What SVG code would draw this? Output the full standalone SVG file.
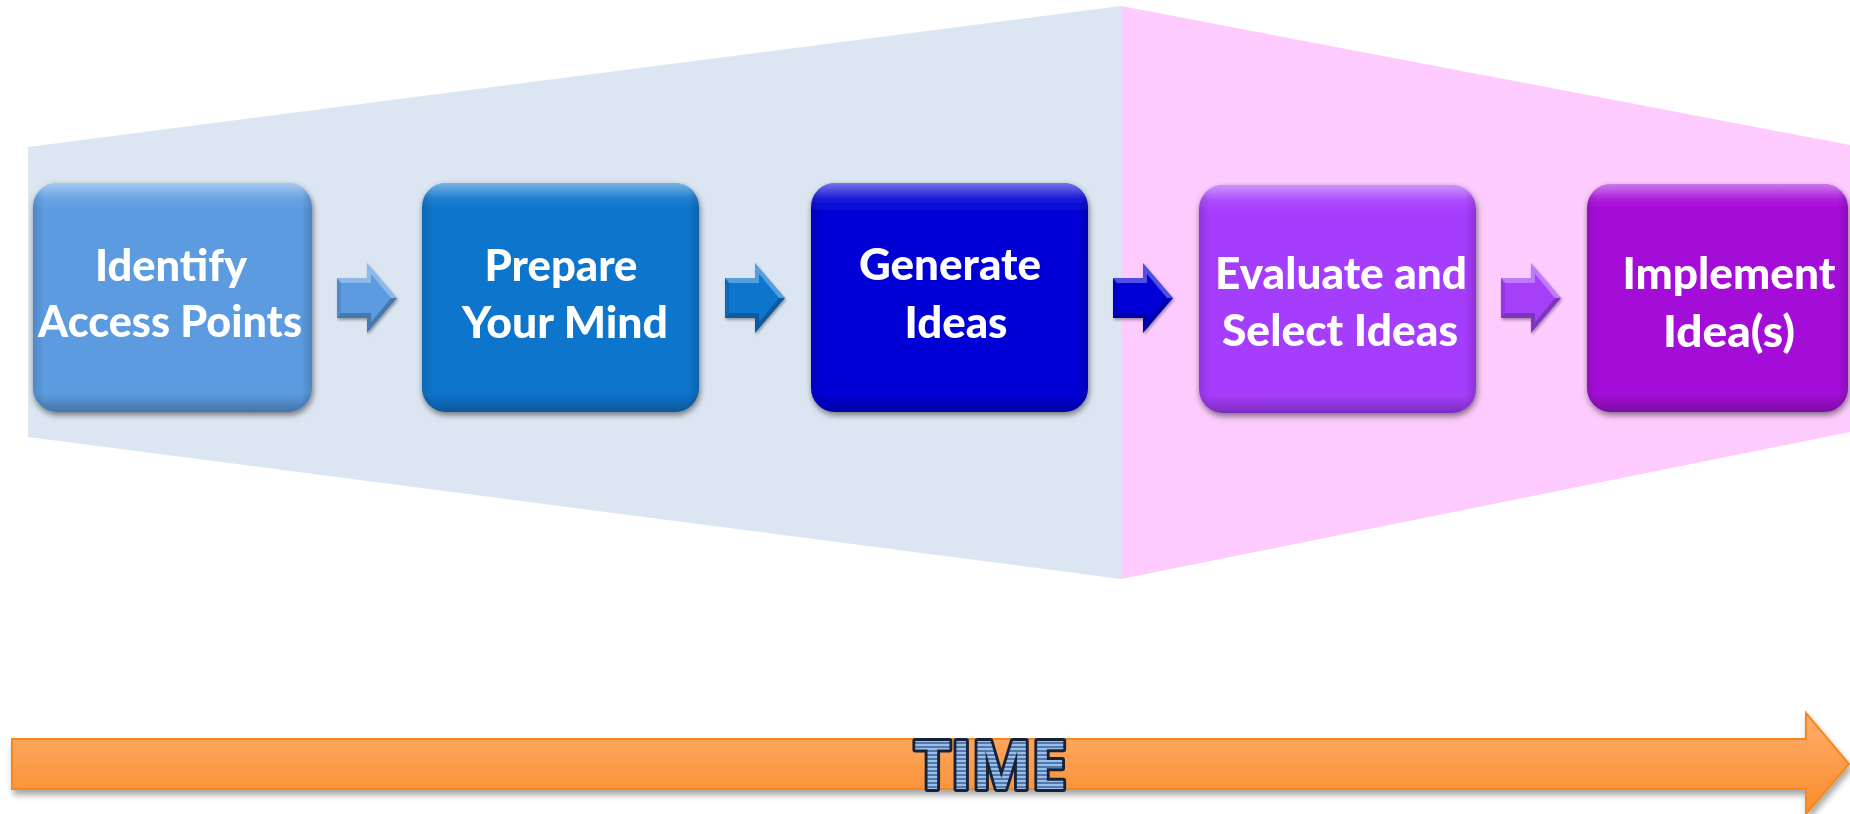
<svg xmlns="http://www.w3.org/2000/svg" width="1850" height="814" viewBox="0 0 1850 814">
  <defs>
    <style>
      .step-label { font-family: Lato, "Open Sans", "Liberation Sans", sans-serif; font-weight: 900; font-size: 43px; fill: #ffffff; text-anchor: middle; }
      .time-label { font-family: "Open Sans", "Liberation Sans", Arial, sans-serif; font-weight: 700; font-size: 66px; fill: url(#stripes); stroke: #15223a; stroke-width: 6; paint-order: stroke; stroke-linejoin: round; }
      .facet-light { fill: #ffffff; fill-opacity: 0.3; }
      .facet-dark { fill: #000000; fill-opacity: 0.22; }
      .facet-side { fill: #000000; fill-opacity: 0.1; }
    </style>
    <filter id="boxShadow" x="-10%" y="-10%" width="125%" height="130%">
      <feGaussianBlur in="SourceAlpha" stdDeviation="3"/>
      <feOffset dx="1" dy="3" result="blur"/>
      <feComponentTransfer><feFuncA type="linear" slope="0.5"/></feComponentTransfer>
      <feMerge><feMergeNode/><feMergeNode in="SourceGraphic"/></feMerge>
    </filter>
    <filter id="arrowShadow" x="-20%" y="-20%" width="150%" height="150%">
      <feGaussianBlur in="SourceAlpha" stdDeviation="1.5"/>
      <feOffset dx="1" dy="2"/>
      <feComponentTransfer><feFuncA type="linear" slope="0.35"/></feComponentTransfer>
      <feMerge><feMergeNode/><feMergeNode in="SourceGraphic"/></feMerge>
    </filter>
    <filter id="barShadow" x="-5%" y="-20%" width="110%" height="160%">
      <feGaussianBlur in="SourceAlpha" stdDeviation="3"/>
      <feOffset dx="2" dy="5"/>
      <feComponentTransfer><feFuncA type="linear" slope="0.35"/></feComponentTransfer>
      <feMerge><feMergeNode/><feMergeNode in="SourceGraphic"/></feMerge>
    </filter>
    <!-- bevel sheen laid over each step box -->
    <linearGradient id="bevelTop" x1="0" y1="0" x2="0" y2="1">
      <stop offset="0" stop-color="#ffffff" stop-opacity="0.45"/>
      <stop offset="0.07" stop-color="#ffffff" stop-opacity="0.08"/>
      <stop offset="0.12" stop-color="#ffffff" stop-opacity="0"/>
      <stop offset="0.92" stop-color="#000000" stop-opacity="0"/>
      <stop offset="1" stop-color="#000000" stop-opacity="0.25"/>
    </linearGradient>
    <linearGradient id="bevelSide" x1="0" y1="0" x2="1" y2="0">
      <stop offset="0" stop-color="#000000" stop-opacity="0.12"/>
      <stop offset="0.04" stop-color="#000000" stop-opacity="0"/>
      <stop offset="0.96" stop-color="#000000" stop-opacity="0"/>
      <stop offset="1" stop-color="#000000" stop-opacity="0.15"/>
    </linearGradient>
    <linearGradient id="orange" x1="0" y1="0" x2="0" y2="1">
      <stop offset="0" stop-color="#fdae6e"/>
      <stop offset="1" stop-color="#fa8c2a"/>
    </linearGradient>
    <pattern id="stripes" patternUnits="userSpaceOnUse" width="8" height="4">
      <rect width="8" height="4" fill="#4f78ad"/>
      <rect width="8" height="2" fill="#9dbde6"/>
    </pattern>
    <!-- bevelled block arrow: base outline plus light/dark facets -->
    <g id="stepArrowFacets">
      <polygon class="facet-light" points="0,15 30,15 30,0 60,35 54,35 34,11 34,20 4,20"/>
      <polygon class="facet-dark" points="0,55 30,55 30,70 60,35 54,35 34,59 34,50 4,50"/>
      <polygon class="facet-side" points="0,15 4,20 4,50 0,55"/>
    </g>
    <path id="stepArrow" d="M0,15 H30 V0 L60,35 L30,70 V55 H0 Z"/>
  </defs>

  <rect width="1850" height="814" fill="#ffffff"/>

  <!-- background phases: diverging then converging -->
  <polygon points="28,147 1121,6 1121,579 28,437" fill="#dce6f2"/>
  <polygon points="1121,6 1850,145 1850,432 1121,579" fill="#fdcbfd"/>

  <!-- connectors between steps -->
  <g id="connectors">
    <g transform="translate(337,263)" filter="url(#arrowShadow)">
      <use href="#stepArrow" fill="#5b9be0"/>
      <use href="#stepArrowFacets"/>
    </g>
    <g transform="translate(725,263)" filter="url(#arrowShadow)">
      <use href="#stepArrow" fill="#0a74cc"/>
      <use href="#stepArrowFacets"/>
    </g>
    <g transform="translate(1113,263)" filter="url(#arrowShadow)">
      <use href="#stepArrow" fill="#0505d6"/>
      <use href="#stepArrowFacets"/>
    </g>
    <g transform="translate(1501,263)" filter="url(#arrowShadow)">
      <use href="#stepArrow" fill="#a540f8"/>
      <use href="#stepArrowFacets"/>
    </g>
  </g>

  <g id="step-identify" filter="url(#boxShadow)">
    <rect x="33" y="183" width="279" height="229" rx="24" fill="#5b9be0"/>
    <rect x="33" y="183" width="279" height="229" rx="24" fill="url(#bevelTop)"/>
    <rect x="33" y="183" width="279" height="229" rx="24" fill="url(#bevelSide)"/>
    <text class="step-label" x="171" y="281" textLength="152" lengthAdjust="spacingAndGlyphs">Identify</text>
    <text class="step-label" x="170" y="337" textLength="264" lengthAdjust="spacingAndGlyphs">Access Points</text>
  </g>

  <g id="step-prepare" filter="url(#boxShadow)">
    <rect x="422" y="183" width="277" height="229" rx="24" fill="#0a74cc"/>
    <rect x="422" y="183" width="277" height="229" rx="24" fill="url(#bevelTop)"/>
    <rect x="422" y="183" width="277" height="229" rx="24" fill="url(#bevelSide)"/>
    <text class="step-label" x="561" y="281" textLength="153" lengthAdjust="spacingAndGlyphs">Prepare</text>
    <text class="step-label" x="565" y="338" textLength="206" lengthAdjust="spacingAndGlyphs">Your Mind</text>
  </g>

  <g id="step-generate" filter="url(#boxShadow)">
    <rect x="811" y="183" width="277" height="229" rx="24" fill="#0505d6"/>
    <rect x="811" y="183" width="277" height="229" rx="24" fill="url(#bevelTop)"/>
    <rect x="811" y="183" width="277" height="229" rx="24" fill="url(#bevelSide)"/>
    <text class="step-label" x="950" y="280" textLength="182" lengthAdjust="spacingAndGlyphs">Generate</text>
    <text class="step-label" x="956" y="338" textLength="103" lengthAdjust="spacingAndGlyphs">Ideas</text>
  </g>

  <g id="step-evaluate" filter="url(#boxShadow)">
    <rect x="1199" y="185" width="277" height="228" rx="24" fill="#a53cfc"/>
    <rect x="1199" y="185" width="277" height="228" rx="24" fill="url(#bevelTop)"/>
    <rect x="1199" y="185" width="277" height="228" rx="24" fill="url(#bevelSide)"/>
    <text class="step-label" x="1341" y="289" textLength="252" lengthAdjust="spacingAndGlyphs">Evaluate and</text>
    <text class="step-label" x="1340" y="346" textLength="236" lengthAdjust="spacingAndGlyphs">Select Ideas</text>
  </g>

  <g id="step-implement" filter="url(#boxShadow)">
    <rect x="1587" y="184" width="261" height="228" rx="24" fill="#a409d8"/>
    <rect x="1587" y="184" width="261" height="228" rx="24" fill="url(#bevelTop)"/>
    <rect x="1587" y="184" width="261" height="228" rx="24" fill="url(#bevelSide)"/>
    <text class="step-label" x="1729" y="289" textLength="213" lengthAdjust="spacingAndGlyphs">Implement</text>
    <text class="step-label" x="1729" y="347" textLength="132" lengthAdjust="spacingAndGlyphs">Idea(s)</text>
  </g>

  <!-- time axis -->
  <g id="time-axis">
    <path d="M12,739 H1806 V713 L1849,764 L1806,814 V789 H12 Z" fill="url(#orange)" stroke="#f5871c" stroke-width="2" filter="url(#barShadow)"/>
    <text class="time-label" x="914" y="789" textLength="153" lengthAdjust="spacingAndGlyphs">TIME</text>
  </g>
</svg>
